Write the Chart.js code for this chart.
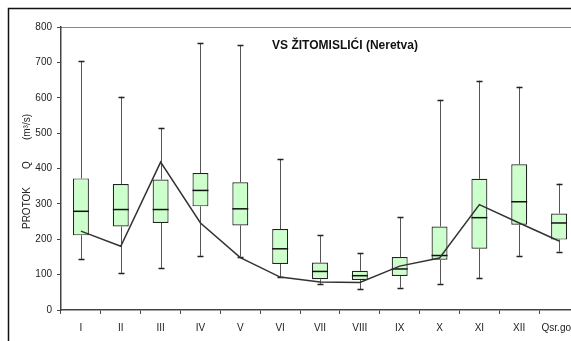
<!DOCTYPE html>
<html>
<head>
<meta charset="utf-8">
<script src="https://cdn.jsdelivr.net/npm/chart.js@4.4.1/dist/chart.umd.min.js"></script>
<style>
  html, body { margin: 0; padding: 0; overflow: hidden; background: #fff; }
  canvas { display: block; }
</style>
</head>
<body>
<canvas id="c" width="600" height="360"></canvas>
<script>
// Monthly discharge at VS Žitomislići (Neretva), m³/s
const categories   = ['I', 'II', 'III', 'IV', 'V', 'VI', 'VII', 'VIII', 'IX', 'X', 'XI', 'XII', 'Qsr.god'];
const whiskerLow   = [144, 105, 119, 153, 151,  94,  74,  59,  63,  74,  90, 153, 165];
const quartile1    = [211, 236, 246, 293, 239, 130,  87,  85,  96, 142, 173, 241, 199];
const medians      = [279, 284, 284, 338, 286, 173, 109,  97, 116, 154, 261, 306, 246];
const quartile3    = [372, 356, 369, 387, 361, 229, 134, 111, 150, 236, 371, 412, 273];
const whiskerHigh  = [704, 603, 515, 755, 748, 427, 211, 160, 262, 594, 648, 631, 357];
const monthlyFlow  = [223, 180, 418, 246, 148,  93,  79,  78, 124, 147, 298, 246, 195];
const yTicks       = [0, 100, 200, 300, 400, 500, 600, 700, 800];

const titleText  = 'VS ŽITOMISLIĆI (Neretva)';
const axisTitle  = ['PROTOK', 'Q', '(m³/s)'];
const FONT = "'Liberation Sans', Arial, sans-serif";

// Whiskers, caps, medians, frame and titles drawn on top of the Chart.js scales
const boxPlot = {
  id: 'boxPlot',
  beforeDraw(chart) {
    const ctx = chart.ctx;
    const area = chart.chartArea;
    ctx.save();
    ctx.fillStyle = '#fff';
    ctx.fillRect(0, 0, chart.width, chart.height);
    // outer frame
    ctx.strokeStyle = '#111';
    ctx.lineWidth = 1.5;
    ctx.strokeRect(8.5, 8.5, chart.width + 50, chart.height + 50);
    // top edge of the plot area
    ctx.strokeStyle = '#888';
    ctx.lineWidth = 1.2;
    ctx.beginPath();
    ctx.moveTo(area.left, area.top + 0.5);
    ctx.lineTo(chart.width, area.top + 0.5);
    ctx.stroke();
    ctx.restore();
  },
  beforeDatasetsDraw(chart) {
    const ctx = chart.ctx;
    const xs = chart.scales.x, ys = chart.scales.y;
    ctx.save();
    ctx.lineWidth = 1;
    categories.forEach((c, i) => {
      const cx = Math.round(xs.getPixelForValue(i)) + 0.5;
      ctx.strokeStyle = '#555';
      ctx.beginPath();
      ctx.moveTo(cx, ys.getPixelForValue(whiskerHigh[i]));
      ctx.lineTo(cx, ys.getPixelForValue(quartile3[i]));
      ctx.moveTo(cx, ys.getPixelForValue(quartile1[i]));
      ctx.lineTo(cx, ys.getPixelForValue(whiskerLow[i]));
      ctx.stroke();
      ctx.strokeStyle = '#222';
      ctx.lineWidth = 1.3;
      ctx.beginPath();
      [whiskerHigh[i], whiskerLow[i]].forEach(v => {
        const py = Math.round(ys.getPixelForValue(v)) + 0.5;
        ctx.moveTo(cx - 3, py);
        ctx.lineTo(cx + 3, py);
      });
      ctx.stroke();
      ctx.lineWidth = 1;
    });
    ctx.restore();
  },
  afterDatasetDraw(chart, args) {
    if (args.meta.type !== 'bar') return;
    const ctx = chart.ctx;
    const ys = chart.scales.y;
    ctx.save();
    ctx.strokeStyle = '#111';
    ctx.lineWidth = 1.5;
    args.meta.data.forEach((bar, i) => {
      const { x, width } = bar.getProps(['x', 'width'], true);
      const py = ys.getPixelForValue(medians[i]);
      ctx.beginPath();
      ctx.moveTo(x - width / 2, py);
      ctx.lineTo(x + width / 2, py);
      ctx.stroke();
    });
    ctx.restore();
  },
  afterDraw(chart) {
    const ctx = chart.ctx;
    ctx.save();
    ctx.fillStyle = '#111';
    ctx.font = 'bold 12px ' + FONT;
    ctx.textAlign = 'center';
    ctx.textBaseline = 'alphabetic';
    ctx.fillText(titleText, 345, 49);
    // vertical axis title
    ctx.font = '10px ' + FONT;
    ctx.fillStyle = '#222';
    ctx.translate(27, 0);
    ctx.rotate(-Math.PI / 2);
    ctx.textBaseline = 'middle';
    ctx.fillText(axisTitle[0], -208, 0);
    ctx.fillText(axisTitle[1], -165, 0);
    ctx.fillText(axisTitle[2], -127, 0);
    ctx.restore();
  }
};

new Chart(document.getElementById('c'), {
  data: {
    labels: categories,
    datasets: [
      {
        type: 'line',
        data: monthlyFlow,
        borderColor: '#333',
        borderWidth: 1.5,
        pointRadius: 0,
        tension: 0,
        fill: false,
        order: 0
      },
      {
        type: 'bar',
        data: quartile1.map((q, i) => [q, quartile3[i]]),
        backgroundColor: '#ccffcc',
        borderColor: '#222',
        borderWidth: 1.2,
        borderSkipped: false,
        barPercentage: 0.4,
        categoryPercentage: 1.0,
        order: 1
      }
    ]
  },
  options: {
    responsive: false,
    animation: false,
    layout: { padding: { left: 0, top: 27, right: 21, bottom: 0 } },
    plugins: { legend: { display: false }, tooltip: { enabled: false }, title: { display: false } },
    scales: {
      x: {
        type: 'category',
        offset: true,
        grid: { display: true, drawOnChartArea: false, offset: true, tickLength: 4, color: '#444', lineWidth: 1 },
        border: { display: true, color: '#444', width: 1.5 },
        ticks: { color: '#222', font: { size: 10, family: FONT }, padding: 8, maxRotation: 0, autoSkip: false },
        afterFit(scale) { scale.height = 50; }
      },
      y: {
        min: 0,
        max: 800,
        afterBuildTicks(scale) { scale.ticks = yTicks.map(v => ({ value: v })); },
        grid: { display: true, drawOnChartArea: false, tickLength: 4, color: '#444', lineWidth: 1 },
        border: { display: true, color: '#444', width: 1.5 },
        ticks: { color: '#222', font: { size: 10, family: FONT }, padding: 5 },
        afterFit(scale) { scale.width = 61; }
      }
    }
  },
  plugins: [boxPlot]
});
</script>
</body>
</html>
